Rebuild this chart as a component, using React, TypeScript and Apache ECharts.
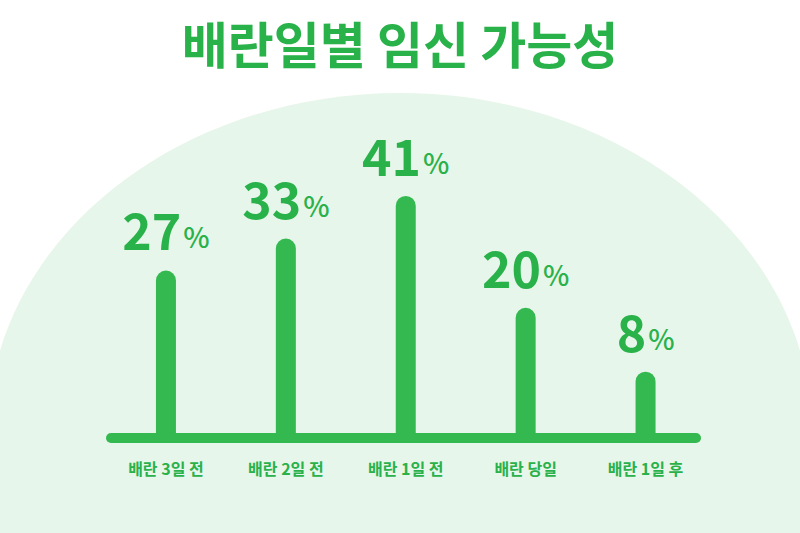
import React, { useEffect, useRef } from "react";
import * as echarts from "echarts";

const categories = ["배란 3일 전", "배란 2일 전", "배란 1일 전", "배란 당일", "배란 1일 후"];
const values = [27, 33, 41, 20, 8];
const title = "배란일별 임신 가능성";

const GREEN = "#33B94F";
const TEXT_GREEN = "#29B14A";
const BG = "#E7F6EA";
const FONT = "Noto Sans CJK KR";

export default function App() {
  const ref = useRef<HTMLDivElement>(null);
  useEffect(() => {
    if (!ref.current) return;
    const chart = echarts.init(ref.current, undefined, { renderer: "svg" });
    chart.setOption({
      animation: false,
      backgroundColor: "#ffffff",
      title: {
        text: title,
        left: "center",
        top: 12,
        textStyle: {
          fontFamily: FONT,
          fontWeight: "bold",
          fontSize: 50,
          color: TEXT_GREEN,
        },
      },
      graphic: [
        {
          type: "ellipse",
          shape: { cx: 400, cy: 432, rx: 412, ry: 339 },
          style: { fill: BG },
          z: -10,
          silent: true,
        },
        {
          type: "rect",
          shape: { x: 0, y: 432, width: 800, height: 101 },
          style: { fill: BG },
          z: -10,
          silent: true,
        },
        {
          type: "line",
          shape: { x1: 111, y1: 438, x2: 696, y2: 438 },
          style: { stroke: GREEN, lineWidth: 10, lineCap: "round" },
          z: 100,
          silent: true,
        },
      ],
      grid: { left: 106, right: 94.5, top: 148, bottom: 95, containLabel: false },
      xAxis: {
        type: "category",
        data: categories,
        axisLine: { show: false },
        axisTick: { show: false },
        axisLabel: {
          color: TEXT_GREEN,
          fontFamily: FONT,
          fontWeight: "bold",
          fontSize: 16,
          margin: 22,
        },
      },
      yAxis: {
        type: "value",
        min: -4.45,
        max: 50,
        startValue: -4.45,
        show: false,
        splitLine: { show: false },
      },
      series: [
        {
          type: "bar",
          data: values,
          barWidth: 20,
          itemStyle: { color: GREEN, borderRadius: [10, 10, 0, 0] },
          label: {
            show: true,
            position: "top",
            distance: 17,
            formatter: (p: any) => `{n|${p.value}}{p|%}`,
            rich: {
              n: {
                fontFamily: FONT,
                fontWeight: "bold",
                fontSize: 50,
                color: TEXT_GREEN,
                lineHeight: 50,
              },
              p: {
                fontFamily: FONT,
                fontWeight: "500",
                fontSize: 28,
                lineHeight: 28,
                verticalAlign: "bottom",
                color: TEXT_GREEN,
                padding: [0, 0, 3, 2],
              },
            },
          },
        },
      ],
    });
    return () => chart.dispose();
  }, []);
  return (
    <div
      ref={ref}
      style={{ position: "fixed", left: 0, top: 0, width: 800, height: 533 }}
    />
  );
}
